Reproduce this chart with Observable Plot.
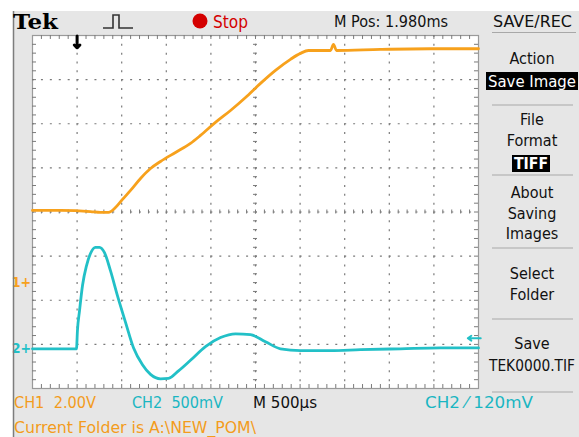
<!DOCTYPE html>
<html><head><meta charset="utf-8">
<script src="https://cdn.jsdelivr.net/npm/d3@7"></script>
<script src="https://cdn.jsdelivr.net/npm/@observablehq/plot@0.6"></script>
<style>
html,body{margin:0;padding:0;background:#fff;}
#wrap{position:relative;width:579px;height:437px;overflow:hidden;background:#fff;}
#panel{position:absolute;left:13px;top:11px;right:0;bottom:0;background:#e6e6e6;}
#wrap svg{position:absolute;left:0;top:0;}
</style></head>
<body><div id="wrap"><div id="panel"></div></div>
<script>
// ---- data (time in microseconds, values in volts) ----
const ch1TimeUs = [0,314,650,762,852,930,1009,1099,1211,1323,1435,1603,1771,1883,2051,2220,2388,2556,2724,2892,3004,3094,3341,3374,3408,3901,4462,5000];
const ch1Volts  = [3.27,3.27,3.22,3.18,3.18,3.40,3.77,4.18,4.72,5.17,5.49,5.90,6.31,6.67,7.26,7.80,8.39,9.03,9.62,10.12,10.39,10.52,10.52,10.80,10.52,10.57,10.60,10.60];
const ch2TimeUs = [0,493,504,527,561,605,650,706,751,807,874,953,1043,1132,1233,1323,1435,1525,1637,1771,1939,2108,2276,2444,2612,2780,3004,3341,3677,4126,4574,5000];
const ch2Volts  = [0,0,0.21,0.43,0.72,0.94,1.08,1.15,1.15,1.09,0.885,0.60,0.30,0.013,-0.18,-0.29,-0.34,-0.335,-0.25,-0.13,0.025,0.127,0.17,0.16,0.08,0.0,-0.02,-0.02,-0.01,0.0,0.01,0.01];
const channelNames = ["CH1","CH2"];
const channelVoltsPerDiv = [2.0, 0.5];
const channelOffsetDiv = [-1.6, -3.1];
const channelColors = ["#f7a11c", "#22c0c7"];
const triggerTimeUs = 500;
const triggerLevelV = 0.12;
const timePerDivUs = 500;
const xDivs = 10, yDivs = 8;

const topLabels = ["Tek", "Stop", "M Pos: 1.980ms", "SAVE/REC"];
const menuLabels = ["Action","File","Format","About","Saving","Images","Select","Folder","Save","TEK0000.TIF"];
const menuBoxes = ["Save Image","TIFF"];
const bottomLabels = ["CH1  2.00V","CH2  500mV","M 500µs","CH2 ⁄ 120mV","Current Folder is A:\\NEW_POM\\"];

// ---- derived ----
const toDiv = (v, c) => v / channelVoltsPerDiv[c] + channelOffsetDiv[c];
const ch1 = ch1TimeUs.map((t, i) => ({t, y: toDiv(ch1Volts[i], 0)}));
const ch2 = ch2TimeUs.map((t, i) => ({t, y: toDiv(ch2Volts[i], 1)}));
const tMax = timePerDivUs * xDivs;
const yMax = yDivs / 2;
const majorT = d3.range(1, xDivs).map(k => k * timePerDivUs);
const majorY = d3.range(-yMax + 1, yMax);
const minorT = d3.range(1, xDivs * 5).map(k => k * timePerDivUs / 5);
const minorY = d3.range(1, yDivs * 5).map(k => -yMax + k / 5);
const tk = 0.09;
const tkT = tk * timePerDivUs;
const gridCol = "#7a7a7a";
const FONT = "'DejaVu Sans Condensed','DejaVu Sans',sans-serif";

const plot = Plot.plot({
  width: 579, height: 437,
  marginLeft: 32, marginRight: 101, marginTop: 35, marginBottom: 49,
  style: {background: "transparent", overflow: "visible"},
  x: {domain: [0, tMax], axis: null},
  y: {domain: [-yMax, yMax], axis: null},
  marks: [
    Plot.frame({fill: "#fff", stroke: "#9a9a9a", strokeWidth: 1.2}),
    Plot.ruleX(majorT, {y1: yMax, y2: -yMax, stroke: gridCol, strokeWidth: 1.2, strokeDasharray: "2,6.825"}),
    Plot.ruleY(majorY, {x1: 0, x2: tMax, stroke: gridCol, strokeWidth: 1.2, strokeDasharray: "2,6.92"}),
    Plot.ruleX(minorT, {y1: yMax, y2: yMax - tk, stroke: gridCol}),
    Plot.ruleX(minorT, {y1: -yMax, y2: -yMax + tk, stroke: gridCol}),
    Plot.ruleX(minorT, {y1: -tk / 2, y2: tk / 2, stroke: gridCol}),
    Plot.ruleY(minorY, {x1: 0, x2: tkT, stroke: gridCol}),
    Plot.ruleY(minorY, {x1: tMax, x2: tMax - tkT, stroke: gridCol}),
    Plot.ruleY(minorY, {x1: tMax / 2 - tkT / 2, x2: tMax / 2 + tkT / 2, stroke: gridCol}),
    Plot.line(ch1, {x: "t", y: "y", stroke: channelColors[0], strokeWidth: 2.8, curve: "monotone-x"}),
    Plot.line(ch2, {x: "t", y: "y", stroke: channelColors[1], strokeWidth: 2.8, curve: "monotone-x"}),
    Plot.text([channelNames[0]], {x: 0, y: channelOffsetDiv[0], text: d => "1+", fill: channelColors[0], dx: -11, fontSize: 14, fontWeight: "bold", fontFamily: FONT}),
    Plot.text([channelNames[1]], {x: 0, y: channelOffsetDiv[1], text: d => "2+", fill: channelColors[1], dx: -11, fontSize: 14, fontWeight: "bold", fontFamily: FONT}),
    Plot.arrow([triggerTimeUs], {x1: d => d, x2: d => d, y1: yMax - 0.01, y2: yMax - 0.28, stroke: "#000", strokeWidth: 3, headLength: 8, headAngle: 90}),
    Plot.arrow([triggerLevelV], {x1: tMax * 1.005, x2: tMax * 0.976, y1: d => toDiv(d, 1), y2: d => toDiv(d, 1), stroke: channelColors[1], strokeWidth: 2, headLength: 6, headAngle: 70})
  ]
});
document.getElementById("wrap").appendChild(plot);

// ---- oscilloscope screen chrome ----
const svg = d3.select("#wrap").append("svg").attr("width", 579).attr("height", 437);
svg.append("line").attr("x1", 13.5).attr("x2", 13.5).attr("y1", 11).attr("y2", 437).attr("stroke", "#7d7d7d").attr("stroke-width", 1.5);
svg.append("polyline").attr("points", "103,28 113,28 113,15 119,15 119,28 133,28").attr("fill", "none").attr("stroke", "#333").attr("stroke-width", 1.6);
svg.append("circle").attr("cx", 200).attr("cy", 21).attr("r", 7.5).attr("fill", "#d40000");
[[32.5, 576], [105, 573], [175, 573], [248, 573], [319, 573], [392, 573]].forEach(([y, x2]) =>
  svg.append("line").attr("x1", 492).attr("x2", x2).attr("y1", y).attr("y2", y).attr("stroke", "#a8a8a8").attr("stroke-width", 1.2));
svg.append("rect").attr("x", 486).attr("y", 72).attr("width", 92).attr("height", 18).attr("fill", "#000");
svg.append("rect").attr("x", 512).attr("y", 155).attr("width", 38).attr("height", 17).attr("fill", "#000");

function label(txt, x, y, o = {}) {
  const t = svg.append("text").attr("x", x).attr("y", y).text(txt)
    .attr("font-family", o.family || FONT).attr("font-size", o.size || 16)
    .attr("font-weight", o.weight || "normal").attr("fill", o.fill || "#111")
    .attr("text-anchor", o.anchor || "start").style("white-space", "pre");
  if (o.len) t.attr("textLength", o.len).attr("lengthAdjust", "spacingAndGlyphs");
  return t;
}
label(topLabels[0], 13, 29, {family: "'DejaVu Serif','Liberation Serif',serif", weight: "bold", size: 21, len: 45, fill: "#000"});
label(topLabels[1], 213, 28, {size: 17, len: 35, fill: "#d40000"});
label(topLabels[2], 334, 27, {size: 16, len: 114});
label(topLabels[3], 493, 27, {size: 16.5, len: 79});

const menuBase = [64, 125, 146, 198, 219, 239, 279, 300, 349, 371];
menuLabels.forEach((m, i) => label(m, 532, menuBase[i], {anchor: "middle", size: 16, len: m === "TEK0000.TIF" ? 86 : null}));
label(menuBoxes[0], 532, 87, {anchor: "middle", size: 16, len: 88, fill: "#fff"});
label(menuBoxes[1], 531, 169, {anchor: "middle", size: 16, weight: "bold", len: 34, fill: "#fff"});

const orangeTxt = "#f39c1c", cyanTxt = "#1ab6c2";
label(bottomLabels[0], 14, 408, {len: 82, fill: orangeTxt});
label(bottomLabels[1], 132, 408, {len: 91, fill: cyanTxt});
label(bottomLabels[2], 253, 408, {len: 64, fill: "#111"});
label(bottomLabels[3], 425, 408, {len: 108, fill: cyanTxt});
label(bottomLabels[4], 14, 433, {len: 242, fill: orangeTxt});
</script>
</body></html>
